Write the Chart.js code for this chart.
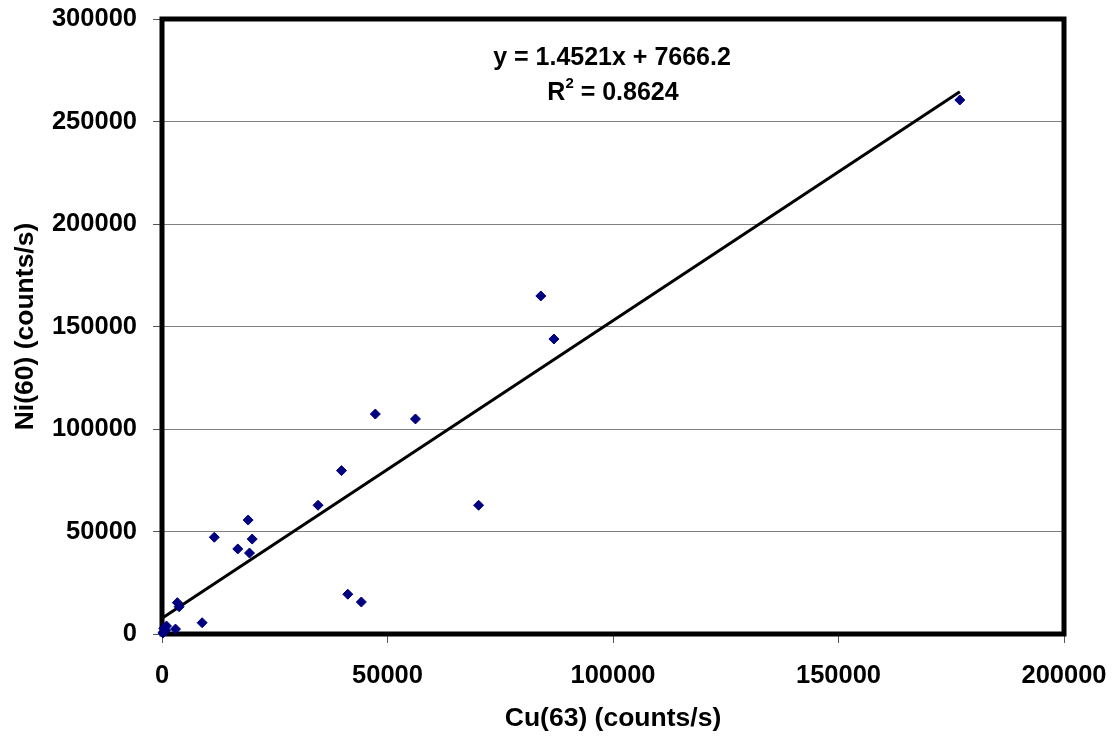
<!DOCTYPE html>
<html>
<head>
<meta charset="utf-8">
<script src="https://cdn.jsdelivr.net/npm/chart.js@4.4.1/dist/chart.umd.min.js"></script>
<style>
  html, body { margin: 0; padding: 0; background: #ffffff; }
  #wrap { width: 1118px; height: 742px; }
</style>
</head>
<body>
<div id="wrap"><canvas id="c" width="1118" height="742"></canvas></div>
<script>
// ---- Data ----
const cuCounts = [176900, 84000, 86900, 47300, 56200, 39800, 34600, 70200, 41200, 44200,
                  19100, 11600, 20000, 16800, 19400, 3400, 3800, 8900, 3000, 1000,
                  400, 400, 800, 200];
const niCounts = [260500, 164900, 143900, 107300, 104900, 79700, 62800, 62800, 19400, 15600,
                  55600, 47200, 46300, 41500, 39500, 15300, 13300, 5500, 2400, 3900,
                  2800, 1100, 1800, 500];
// Trendline endpoints as drawn (y = 1.4521x + 7666.2)
const trendX = [0, 176900];
const trendY = [7666.2, 264540];
const xTicks = [0, 50000, 100000, 150000, 200000];
const yTicks = [0, 50000, 100000, 150000, 200000, 250000, 300000];
const equationText = 'y = 1.4521x + 7666.2';
const r2Value = '0.8624';
const xTitle = 'Cu(63) (counts/s)';
const yTitle = 'Ni(60) (counts/s)';

const FONT = '"Liberation Sans", Arial, Helvetica, sans-serif';

const scatterPts = cuCounts.map((x, i) => ({ x: x, y: niCounts[i] }));
const trendPts = trendX.map((x, i) => ({ x: x, y: trendY[i] }));

const bgPlugin = {
  id: 'bg',
  beforeDraw(chart) {
    const ctx = chart.ctx;
    ctx.save();
    ctx.fillStyle = '#ffffff';
    ctx.fillRect(0, 0, chart.width, chart.height);
    ctx.restore();
  }
};

const framePlugin = {
  id: 'frame',
  beforeDatasetsDraw(chart) {
    const a = chart.chartArea;
    const ctx = chart.ctx;
    ctx.save();
    ctx.strokeStyle = '#000000';
    ctx.lineWidth = 5;
    ctx.strokeRect(a.left, a.top, a.right - a.left, a.bottom - a.top);
    ctx.restore();
  }
};

const eqPlugin = {
  id: 'eq',
  afterDatasetsDraw(chart) {
    const a = chart.chartArea;
    const ctx = chart.ctx;
    const cx = (a.left + a.right) / 2;
    ctx.save();
    ctx.fillStyle = '#000000';
    ctx.textBaseline = 'middle';
    ctx.font = 'bold 25px ' + FONT;
    ctx.textAlign = 'center';
    ctx.fillText(equationText, cx - 1, a.top + 39);
    // R² line
    const big = 'bold 25px ' + FONT;
    const small = 'bold 15px ' + FONT;
    ctx.font = big;
    const wR = ctx.measureText('R').width;
    const rest = ' = ' + r2Value;
    const wRest = ctx.measureText(rest).width;
    ctx.font = small;
    const w2 = ctx.measureText('2').width;
    const total = wR + w2 + wRest;
    let x = cx - total / 2;
    const y = a.top + 74;
    ctx.textAlign = 'left';
    ctx.font = big;
    ctx.fillText('R', x, y);
    x += wR;
    ctx.font = small;
    ctx.fillText('2', x, y - 9);
    x += w2;
    ctx.font = big;
    ctx.fillText(rest, x, y);
    ctx.restore();
  }
};

new Chart(document.getElementById('c'), {
  type: 'scatter',
  data: {
    datasets: [
      {
        label: 'data',
        data: scatterPts,
        order: 0,
        pointStyle: 'rectRot',
        pointRadius: 5,
        pointHoverRadius: 5,
        backgroundColor: '#000080',
        borderColor: '#000080',
        borderWidth: 1,
        clip: false
      },
      {
        label: 'trend',
        type: 'line',
        data: trendPts,
        order: 1,
        showLine: true,
        pointRadius: 0,
        borderColor: '#000000',
        borderWidth: 3,
        fill: false,
        tension: 0,
        clip: false
      }
    ]
  },
  options: {
    responsive: false,
    devicePixelRatio: 1,
    animation: false,
    events: [],
    layout: { padding: { top: 19, right: 54, left: 0, bottom: 0 } },
    plugins: {
      legend: { display: false },
      tooltip: { enabled: false },
      title: { display: false }
    },
    scales: {
      x: {
        type: 'linear',
        min: 0,
        max: 200000,
        afterBuildTicks(scale) { scale.ticks = xTicks.map(v => ({ value: v })); },
        afterFit(scale) { scale.height = 108; scale.paddingLeft = 0; scale.paddingRight = 0; },
        ticks: {
          autoSkip: false,
          maxRotation: 0,
          padding: 18,
          color: '#000000',
          font: { family: FONT, size: 25.5, weight: 'bold' },
          callback: v => String(v)
        },
        grid: {
          drawOnChartArea: false,
          drawTicks: true,
          tickLength: 9,
          tickColor: '#555555',
          lineWidth: 1
        },
        border: { display: false },
        title: {
          display: true,
          text: xTitle,
          color: '#000000',
          font: { family: FONT, size: 26.5, weight: 'bold' },
          padding: { top: 0, bottom: 7 }
        }
      },
      y: {
        type: 'linear',
        min: 0,
        max: 300000,
        afterBuildTicks(scale) { scale.ticks = yTicks.map(v => ({ value: v })); },
        afterFit(scale) { scale.width = 162; scale.paddingTop = 0; scale.paddingBottom = 0; },
        ticks: {
          autoSkip: false,
          padding: 16,
          color: '#000000',
          font: { family: FONT, size: 25.5, weight: 'bold' },
          callback: v => String(v)
        },
        grid: {
          drawOnChartArea: true,
          drawTicks: true,
          tickLength: 9,
          color: '#808080',
          tickColor: '#555555',
          lineWidth: 1
        },
        border: { display: false },
        title: {
          display: true,
          text: yTitle,
          color: '#000000',
          font: { family: FONT, size: 26.5, weight: 'bold' },
          padding: { top: 10, bottom: 0 }
        }
      }
    }
  },
  plugins: [bgPlugin, framePlugin, eqPlugin]
});
</script>
</body>
</html>
